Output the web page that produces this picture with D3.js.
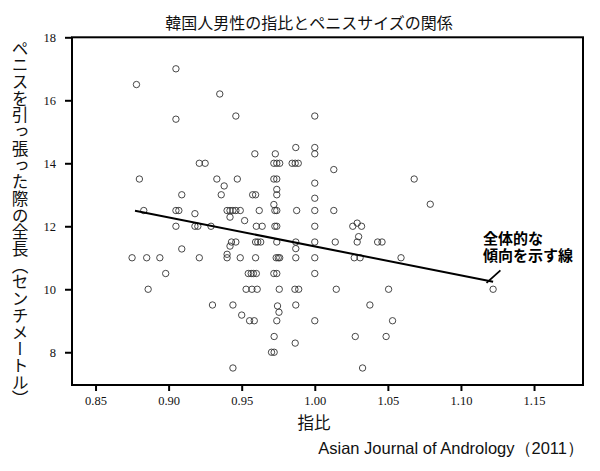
<!DOCTYPE html>
<html><head><meta charset="utf-8">
<script src="https://cdn.jsdelivr.net/npm/d3@7"></script>
<style>body{margin:0;background:#fff}svg{display:block}</style>
</head><body>
<svg id="c" width="600" height="471"></svg>
<script>
const title = "韓国人男性の指比とペニスサイズの関係";
const xLabel = "指比";
const yLabel = "ペニスを引っ張った際の全長（センチメートル）";
const source = "Asian Journal of Andrology（2011）";
const annotation = ["全体的な", "傾向を示す線"];
const xTicks = [0.85, 0.90, 0.95, 1.00, 1.05, 1.10, 1.15];
const xTickLabels = ["0.85", "0.90", "0.95", "1.00", "1.05", "1.10", "1.15"];
const yTicks = [8, 10, 12, 14, 16, 18];
const yTickLabels = ["8", "10", "12", "14", "16", "18"];
// digit ratio (x) and stretched length in cm (y)
const ratio = [
 0.905,0.878,0.935,0.905,0.946,1.000,0.921,0.925,0.987,1.000,1.000,0.959,0.973,0.972,0.974,0.976,0.9845,0.9866,0.9887,1.013,
 0.880,0.933,0.947,0.972,0.974,1.000,0.938,0.974,0.909,0.936,0.9575,0.9595,0.974,1.000,0.972,1.068,1.079,
 0.883,0.905,0.907,0.940,0.942,0.944,0.946,0.949,0.962,0.9727,0.974,0.9876,1.000,1.013,0.918,0.942,0.952,
 0.905,0.918,0.920,0.929,0.960,0.964,0.9727,0.974,1.000,1.029,1.026,1.032,1.030,
 0.943,0.946,0.9595,0.961,0.963,0.974,0.987,1.000,1.014,1.029,1.043,1.046,0.942,0.909,0.987,
 0.875,0.885,0.894,0.921,0.940,0.940,0.949,0.9595,0.9736,0.975,0.976,0.987,1.000,1.027,1.031,1.059,
 0.898,0.9545,0.9565,0.958,0.960,0.972,0.974,1.000,
 0.886,0.953,0.957,0.9606,0.9757,0.9864,0.989,1.0147,1.0505,1.122,
 0.930,0.944,0.9745,0.9755,0.987,1.0377,0.950,
 0.9554,0.9586,0.974,1.000,1.0532,
 0.9722,1.0277,1.0488,0.9866,0.9704,0.9722,0.944,1.0327
];
const length = [
 17.0,16.5,16.2,15.4,15.5,15.5,14.0,14.0,14.5,14.5,14.3,14.3,14.3,14.0,14.0,14.0,14.0,14.0,14.0,13.8,
 13.5,13.5,13.5,13.5,13.5,13.37,13.28,13.17,13.0,13.0,13.0,13.0,13.0,12.89,12.69,13.5,12.7,
 12.5,12.5,12.5,12.5,12.5,12.5,12.5,12.5,12.5,12.5,12.5,12.5,12.5,12.5,12.4,12.29,12.18,
 12.0,12.0,12.0,12.0,12.0,12.0,12.0,12.0,12.0,12.1,12.0,12.0,11.67,
 11.5,11.5,11.5,11.5,11.5,11.5,11.5,11.5,11.5,11.5,11.5,11.5,11.37,11.28,11.29,
 11.0,11.0,11.0,11.0,11.11,11.0,11.0,11.0,11.0,11.0,11.0,11.0,11.0,11.0,11.0,11.0,
 10.5,10.5,10.5,10.5,10.5,10.5,10.5,10.5,
 10.0,10.0,10.0,10.0,10.0,10.0,10.0,10.0,10.0,10.0,
 9.5,9.5,9.47,9.27,9.5,9.5,9.18,
 9.0,9.0,9.0,9.0,9.0,
 8.5,8.5,8.5,8.29,8.0,8.0,7.5,7.5
];
const trendX = [0.877, 1.122];
const trendY = [12.49, 10.24];
const leaderX = [1.1175, 1.127];
const leaderY = [10.2, 10.6];

const svg = d3.select("#c");
const L = 72, R = 583, T = 37.3, B = 385;
const x = d3.scaleLinear().domain([0.8339, 1.1835]).range([L, R]);
const y = d3.scaleLinear().domain([6.96, 18]).range([B, T]);

// title
svg.append("text").attr("x", 309).attr("y", 29).attr("text-anchor", "middle")
  .style("font-family", "'Noto Sans CJK JP'").style("font-size", "16px").attr("fill", "#111").text(title);

// points
svg.append("g").selectAll("circle").data(ratio.map((r, i) => [r, length[i]])).join("circle")
  .attr("cx", d => x(d[0])).attr("cy", d => y(d[1])).attr("r", 3.2)
  .attr("fill", "none").attr("stroke", "#333").attr("stroke-width", 0.9);

// trend line
svg.append("line").attr("x1", x(trendX[0])).attr("y1", y(trendY[0]))
  .attr("x2", x(trendX[1])).attr("y2", y(trendY[1]))
  .attr("stroke", "#000").attr("stroke-width", 2);
// leader
svg.append("line").attr("x1", x(leaderX[0])).attr("y1", y(leaderY[0]))
  .attr("x2", x(leaderX[1])).attr("y2", y(leaderY[1]))
  .attr("stroke", "#000").attr("stroke-width", 1.8);

// annotation
annotation.forEach((t, i) => svg.append("text").attr("x", 483).attr("y", 243.5 + i * 17)
  .style("font-family", "'Noto Sans CJK JP'").style("font-size", "15px").style("font-weight", "700")
  .attr("fill", "#000").text(t));

// axes
const xAxis = d3.axisBottom(x).tickValues(xTicks).tickFormat((d, i) => xTickLabels[i]).tickSize(6).tickPadding(5);
const gx = svg.append("g").attr("transform", `translate(0,${B})`).call(xAxis);
const yAxis = d3.axisLeft(y).tickValues(yTicks).tickFormat((d, i) => yTickLabels[i]).tickSize(7).tickPadding(9);
const gy = svg.append("g").attr("transform", `translate(${L},0)`).call(yAxis);
[gx, gy].forEach(g => {
  g.select(".domain").remove();
  g.selectAll(".tick line").attr("stroke", "#000").attr("stroke-width", 2);
  g.selectAll(".tick text").style("font-family", "'Liberation Serif'").style("font-size", "12.5px").attr("fill", "#111");
});

// frame
svg.append("rect").attr("x", L).attr("y", T).attr("width", R - L).attr("height", B - T)
  .attr("fill", "none").attr("stroke", "#000").attr("stroke-width", 2);

// axis labels
svg.append("text").attr("x", 314).attr("y", 429).attr("text-anchor", "middle")
  .style("font-family", "'Noto Sans CJK JP'").style("font-size", "16.5px").attr("fill", "#111").text(xLabel);
svg.append("text").attr("x", 20).attr("y", 40)
  .style("writing-mode", "vertical-rl").style("font-family", "'Noto Sans CJK JP'")
  .style("font-size", "16.7px").attr("fill", "#111").text(yLabel);

// source
svg.append("text").attr("x", 584).attr("y", 454).attr("text-anchor", "end")
  .style("font-family", "'Liberation Sans'").style("font-size", "16.5px").attr("fill", "#111").text(source);
</script>
</body></html>
